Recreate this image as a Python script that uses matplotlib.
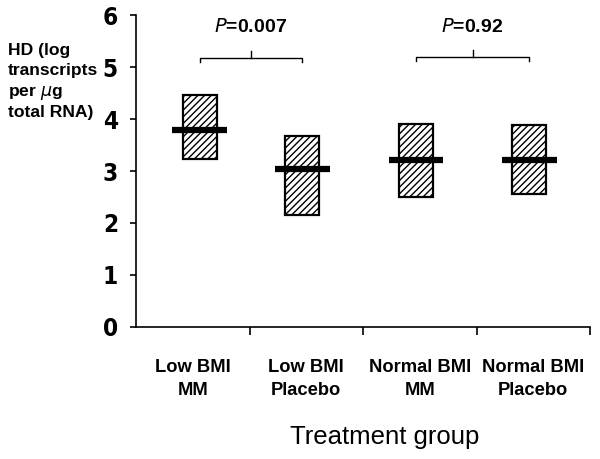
import matplotlib
matplotlib.use("Agg")
import matplotlib.pyplot as plt
import numpy as np
from matplotlib.patches import Rectangle
from matplotlib import font_manager

categories = ["Low BMI\nMM", "Low BMI\nPlacebo", "Normal BMI\nMM", "Normal BMI\nPlacebo"]
box_low = [3.24, 2.15, 2.50, 2.55]
box_high = [4.47, 3.67, 3.90, 3.88]
medians = [3.79, 3.03, 3.22, 3.22]
p_labels = ["0.007", "0.92"]
yticks = [0, 1, 2, 3, 4, 5, 6]
ylabel_lines = ["HD (log", "transcripts", "per " + r"$\mathit{\mu}$" + "g", "total RNA)"]

names = {f.name for f in font_manager.fontManager.ttflist}
narrow = "Liberation Sans Narrow" if "Liberation Sans Narrow" in names else (
    "DejaVu Sans Condensed" if "DejaVu Sans Condensed" in names else "DejaVu Sans")

fig = plt.figure(figsize=(6, 4.59), dpi=100)
ax = fig.add_axes([0.2267, 0.2876, 0.7567, 0.6797])

pos = np.arange(1, len(categories) + 1) + np.array([0.06, -0.035, -0.035, -0.035])
bw = 0.30
for x, lo, hi, m in zip(pos, box_low, box_high, medians):
    ax.add_patch(Rectangle((x - bw / 2, lo), bw, hi - lo, facecolor="white",
                           edgecolor="black", hatch="/////", linewidth=1.6, zorder=2))
    ax.plot([x - 0.24, x + 0.24], [m, m], color="black", linewidth=4.5,
            solid_capstyle="butt", zorder=3)

def bracket(x0, x1, y, label):
    h = 0.09
    ax.plot([x0, x0, x1, x1], [y - h, y, y, y - h], color="black", lw=1.0,
            clip_on=False)
    xm = (x0 + x1) / 2
    ax.plot([xm, xm], [y, y + 0.12], color="black", lw=1.0, clip_on=False)
    ax.text(xm, 5.76, r"$\mathit{P}$" + "=" + label, ha="center", va="center",
            fontsize=14, fontweight="bold", family="Liberation Sans")

bracket(pos[0], pos[1], 5.18, p_labels[0])
bracket(pos[2], pos[3], 5.2, p_labels[1])

ax.set_xlim(0.5, 4.5)
ax.set_ylim(0, 6)
ax.spines["top"].set_visible(False)
ax.spines["right"].set_visible(False)
for s in ("left", "bottom"):
    ax.spines[s].set_linewidth(1.2)

ax.set_yticks(yticks)
ax.set_yticklabels([str(v) for v in yticks], fontsize=17.5, fontweight="bold",
                   family=narrow, fontstretch="condensed")
ax.tick_params(axis="y", direction="out", length=4, width=1.2, pad=9)

ax.set_xticks([1.5, 2.5, 3.5, 4.5])
ax.set_xticklabels([])
ax.tick_params(axis="x", which="major", direction="out", length=6, width=1.2)
ax.set_xticks(np.arange(1, len(categories) + 1), minor=True)
ax.set_xticklabels(categories, minor=True, fontsize=13.2, fontweight="bold",
                   family="Liberation Sans", linespacing=1.45)
ax.tick_params(axis="x", which="minor", length=0, pad=23)

fig.text(385 / 600, 1 - 437 / 459, "Treatment group", ha="center", va="center",
         fontsize=18.5, family="Liberation Sans")

for i, line in enumerate(ylabel_lines):
    fig.text(8 / 600, 1 - (55 + 20.5 * i) / 459, line, ha="left", va="baseline",
             fontsize=12.6, fontweight="bold", family="Liberation Sans")

fig.savefig("out.png", dpi=100)
